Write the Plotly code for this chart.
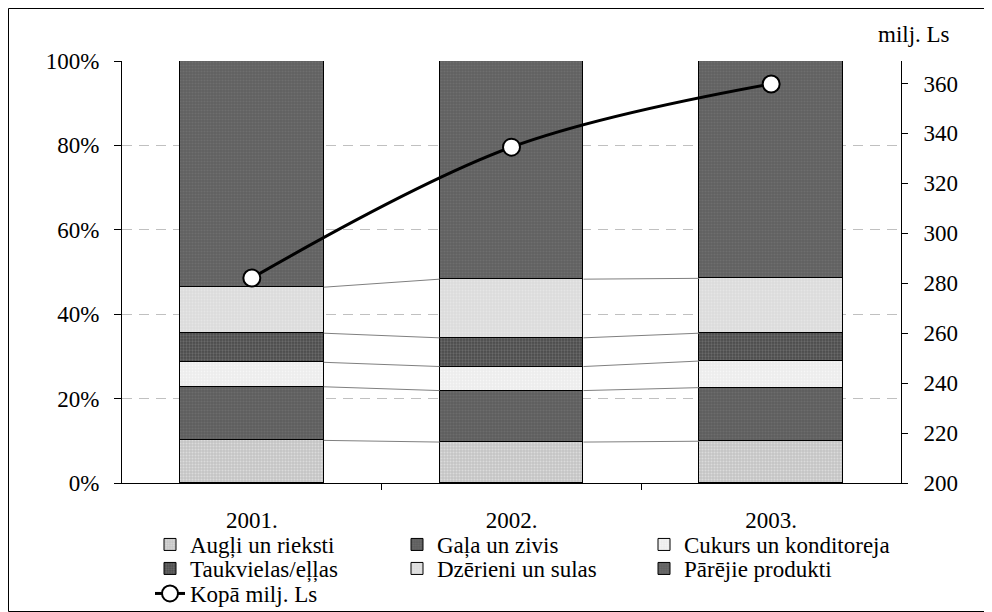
import plotly.graph_objects as go

years = ["2001.", "2002.", "2003."]
categories = ["Augļi un rieksti", "Gaļa un zivis", "Cukurs un konditoreja",
              "Taukvielas/eļļas", "Dzērieni un sulas", "Pārējie produkti"]
augli = [10.1, 9.7, 9.9]
gala = [12.7, 12.2, 12.7]
cukurs = [5.8, 5.7, 6.3]
tauk = [6.9, 6.8, 6.6]
dzer = [10.9, 13.9, 13.0]
pareji = [53.6, 51.7, 51.5]
kopa = [282.1, 334.5, 359.8]
line_name = "Kopā milj. Ls"
left_ticks = [0, 20, 40, 60, 80, 100]
left_labels = ["0%", "20%", "40%", "60%", "80%", "100%"]
right_ticks = [200, 220, 240, 260, 280, 300, 320, 340, 360]

series = [augli, gala, cukurs, tauk, dzer, pareji]
legend_rows = ["legend", "legend", "legend", "legend2", "legend2", "legend2"]
styles = [
    dict(bg="#c4c4c4", fg="#f2f2f2", shape=".", size=3, sol=0.35),
    dict(bg="#5e5e5e", fg="#7a7a7a", shape=".", size=3, sol=0.4),
    dict(bg="#ececec", fg="#ffffff", shape=".", size=3, sol=0.3),
    dict(bg="#4a4a4a", fg="#8a8a8a", shape=".", size=3, sol=0.45),
    dict(bg="#dcdcdc", fg="#eeeeee", shape=".", size=3, sol=0.3),
    dict(bg="#606060", fg="#7c7c7c", shape=".", size=3, sol=0.4),
]

FONT = "Liberation Serif"
FS = 23
W = 0.554
xs = list(range(len(years)))

fig = go.Figure()
for name, vals, st, lg in zip(categories, series, styles, legend_rows):
    fig.add_trace(go.Bar(
        x=xs, y=vals, name=name, width=W, legend=lg,
        marker=dict(color=st["bg"], line=dict(color="black", width=1),
                    pattern=dict(shape=st["shape"], fgcolor=st["fg"], bgcolor=st["bg"],
                                 size=st["size"], solidity=st["sol"])),
    ))

# series lines between bars
cum = [0, 0, 0]
for vals in series[:-1]:
    cum = [c + v for c, v in zip(cum, vals)]
    for i in range(len(xs) - 1):
        fig.add_trace(go.Scatter(
            x=[xs[i] + W / 2, xs[i + 1] - W / 2], y=[cum[i], cum[i + 1]],
            mode="lines", line=dict(color="#808080", width=1),
            showlegend=False, hoverinfo="skip"))

fig.add_trace(go.Scatter(
    x=xs, y=kopa, name=line_name, yaxis="y2", mode="lines+markers", legend="legend3",
    line=dict(color="black", width=3, shape="spline"),
    marker=dict(symbol="circle", size=17, color="white", line=dict(color="black", width=2)),
))

# figure sits at page offset (8, 8); layout numbers below are in page pixels
OFF = 8
FW, FH = 984, 604
PL, PR, PT, PB = 122, 901, 61, 483          # plot area in page pixels
L, R, T, B = PL - OFF, OFF + FW - PR, PT - OFF, OFF + FH - PB
PW, PH = PR - PL, PB - PT


def px_x(p):
    return (p - PL) / PW


def px_y(p):
    return (PB - p) / PH


tf = dict(family=FONT, size=FS, color="black")


def leg(top_px):
    return dict(orientation="h", x=px_x(150), y=px_y(top_px), xanchor="left", yanchor="top",
                entrywidth=202, entrywidthmode="pixels", font=tf,
                traceorder="normal", itemwidth=30, tracegroupgap=0,
                bgcolor="rgba(0,0,0,0)")


fig.update_layout(
    width=FW, height=FH, autosize=False,
    margin=dict(l=L, r=R, t=T, b=B, autoexpand=False),
    barmode="stack", bargap=0,
    plot_bgcolor="white", paper_bgcolor="white",
    font=tf,
    xaxis=dict(range=[-0.5, 2.5], tickvals=xs, ticktext=years, ticks="",
               showline=True, linecolor="black", linewidth=1, showgrid=False, zeroline=False,
               tickfont=tf, ticklabelstandoff=16,
               minor=dict(tickvals=[0.5, 1.5], ticks="outside", ticklen=6, tickcolor="black")),
    yaxis=dict(range=[0, 100], tickvals=left_ticks, ticktext=left_labels, ticks="outside",
               ticklen=7, tickcolor="black", showline=True, linecolor="black",
               showgrid=True, gridcolor="#c0c0c0", griddash="10px,7px", gridwidth=1,
               zeroline=False, tickfont=tf, ticklabelstandoff=10),
    yaxis2=dict(range=[200, 369], tickvals=right_ticks, overlaying="y", side="right",
                ticks="outside", ticklen=6, tickcolor="black", showline=True,
                linecolor="black", showgrid=False, zeroline=False, tickfont=tf,
                ticklabelstandoff=11),
    showlegend=True,
    legend=leg(523),
    legend2=leg(547),
    legend3=leg(572),
    annotations=[dict(text="milj. Ls", xref="paper", yref="paper", x=px_x(914), y=px_y(35),
                      showarrow=False, font=tf, xanchor="center", yanchor="middle")],
    shapes=[dict(type="rect", xref="paper", yref="paper",
                 x0=px_x(OFF + 0.5), x1=px_x(OFF + FW - 0.5),
                 y0=px_y(OFF + FH - 0.5), y1=px_y(OFF + 0.5),
                 line=dict(color="black", width=1), layer="above")],
)

fig.write_html("out.html")
